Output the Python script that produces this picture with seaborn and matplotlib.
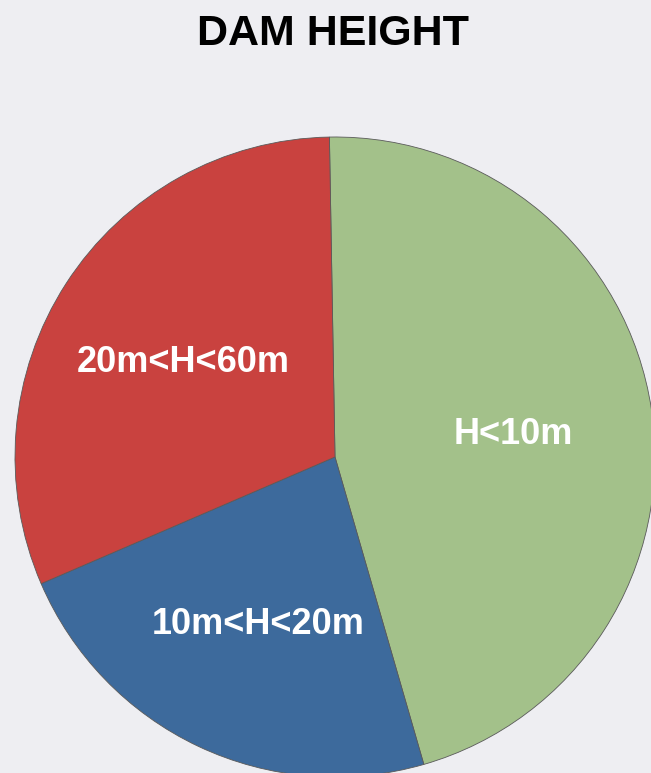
import matplotlib.pyplot as plt
import seaborn as sns

categorias = ['H<10m', '10m<H<20m', '20m<H<60m']
valores = [45.8, 23.0, 31.2]
cores = ['#A3C18A', '#3D6A9C', '#C9423F']

sns.set_theme(style='white')
plt.rcParams['font.family'] = ['Liberation Sans', 'DejaVu Sans']

fig = plt.figure(figsize=(6.51, 7.73), dpi=100, facecolor='#EEEEF2')

# eixo posicionado para o circulo de raio ~320px centrado em (335, 457)
ax = fig.add_axes([15 / 651, -4 / 773, 640 / 651, 640 / 773])
ax.set_facecolor('#EEEEF2')

wedges, textos = ax.pie(valores, labels=categorias, colors=cores, startangle=91,
                        counterclock=False, labeldistance=0.565,
                        wedgeprops={'edgecolor': '#5a5a5a', 'linewidth': 0.6})
for t in textos:
    t.set_ha('center')
    t.set_va('center_baseline')
    t.set_color('white')
    t.set_fontsize(26)
    t.set_fontweight('bold')

ax.set_xlim(-1, 1)
ax.set_ylim(-1, 1)
ax.set_aspect('auto')
ax.axis('off')

fig.text(333 / 651, 1 - 34 / 773, 'DAM HEIGHT', ha='center', va='center',
         fontsize=31, fontweight='bold', color='black')

fig.savefig('out.png', dpi=100, facecolor=fig.get_facecolor())
